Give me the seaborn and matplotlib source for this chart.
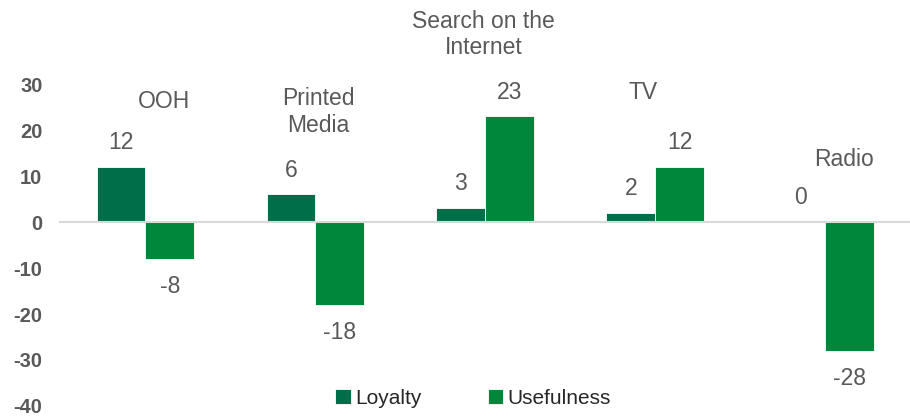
import matplotlib
matplotlib.use("Agg")
import matplotlib.pyplot as plt
import seaborn as sns
import pandas as pd

# Chart data
channels = ["OOH", "Printed\nMedia", "Search on the\nInternet", "TV", "Radio"]
loyalty = [12, 6, 3, 2, 0]
usefulness = [-8, -18, 23, 12, -28]
series_names = ["Loyalty", "Usefulness"]
y_ticks = [-40, -30, -20, -10, 0, 10, 20, 30]

# Where each channel name sits (data coordinates)
name_pos = [(0.107, 26.2), (1.02, 24.0), (1.99, 40.8), (2.93, 28.1), (4.11, 13.5)]

colors = {"Loyalty": "#006E48", "Usefulness": "#00873C"}

df = pd.DataFrame({
    "channel": channels * 2,
    "series": [series_names[0]] * len(channels) + [series_names[1]] * len(channels),
    "value": loyalty + usefulness,
})

sns.set_style("white")
plt.rcParams["font.family"] = ["Liberation Sans", "DejaVu Sans"]

fig = plt.figure(figsize=(9.10, 4.17), dpi=100)
ax = fig.add_axes([60.5 / 910, 0, 1 - 60.5 / 910, 1])

sns.barplot(data=df, x="channel", y="value", hue="series", order=channels,
            hue_order=series_names, palette=colors, width=0.575, gap=0,
            saturation=1, edgecolor="white", linewidth=0.6, ax=ax, legend=True)

ax.set_xlim(-0.5, -0.5 + (910 - 60.5) / 170.5)
ax.set_ylim(-42.4, 48.3)

# Value labels above positive bars, below negative ones
for cont in ax.containers:
    for bar in cont:
        value = bar.get_height()
        cx = bar.get_x() + bar.get_width() / 2
        if value >= 0:
            ax.annotate(f"{value:.0f}", (cx, value), xytext=(0, 17.5),
                        textcoords="offset points", ha="center", va="center",
                        fontsize=16.5, color="#595959")
        else:
            ax.annotate(f"{value:.0f}", (cx, value), xytext=(0, -20),
                        textcoords="offset points", ha="center", va="center",
                        fontsize=16.5, color="#595959")

# Channel names
for name, (x, y) in zip(channels, name_pos):
    ax.text(x, y, name, ha="center", va="center", fontsize=16.5,
            color="#595959", linespacing=1.2)

# Axes styling: zero line with category separators
for s in ["left", "top", "right"]:
    ax.spines[s].set_visible(False)
ax.spines["bottom"].set_position(("data", 0))
ax.spines["bottom"].set_color("#D9D9D9")
ax.spines["bottom"].set_linewidth(1.5)
ax.set_xticks([i - 0.5 for i in range(len(channels) + 1)])
ax.set_xticklabels([])
ax.tick_params(axis="x", length=9, width=1.5, color="#D9D9D9", direction="out")

ax.set_yticks(y_ticks)
ax.set_yticklabels([str(t) for t in y_ticks], fontsize=14.5, fontweight="bold",
                   color="#595959")
ax.tick_params(axis="y", length=0, pad=13)
ax.set_xlabel("")
ax.set_ylabel("")
ax.grid(False)

handles, labels = ax.get_legend_handles_labels()
ax.legend(handles, labels, loc="center", bbox_to_anchor=(473 / 910, 1 - 398 / 417),
          bbox_transform=fig.transFigure, ncol=2, frameon=False, fontsize=15,
          handlelength=0.75, handleheight=0.75, handletextpad=0.2,
          columnspacing=3.2, labelcolor="#262626")

fig.savefig("out.png", dpi=100)
